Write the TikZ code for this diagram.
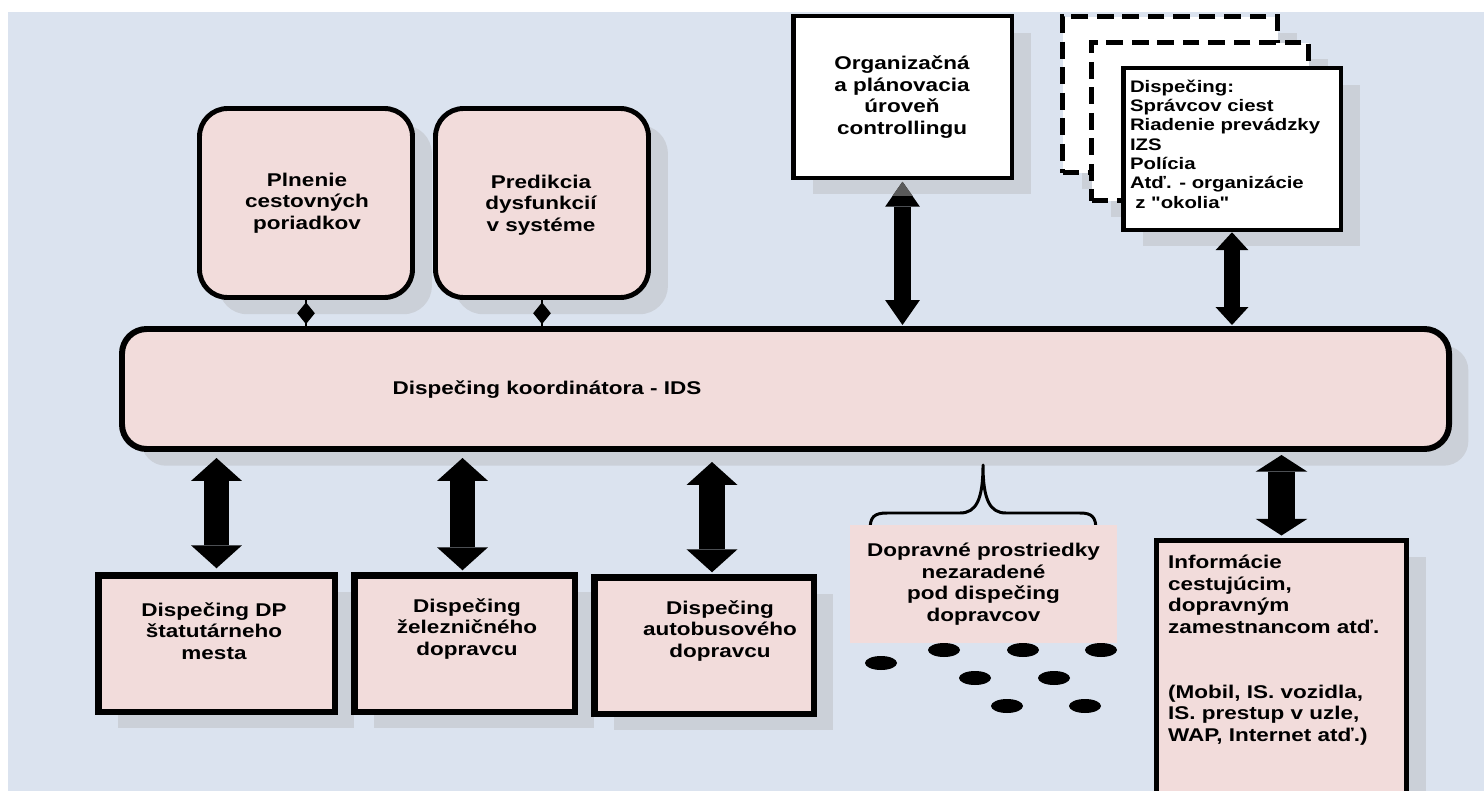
\documentclass[tikz,border=0pt]{standalone}
\usepackage{fontspec}
\newfontfamily\lab{Liberation Sans}[FakeStretch=1.22]
\usetikzlibrary{shapes.geometric,arrows.meta,shadows,calc}
\definecolor{bgblue}{HTML}{DBE3EF}
\definecolor{boxpink}{HTML}{F2DCDB}
\definecolor{shade}{HTML}{CBD0D8}
\definecolor{tipgray}{HTML}{5A5A5A}
\begin{document}
\begin{tikzpicture}[x=0.02cm,y=-0.02cm,
  wh/.style 2 args={minimum width=#1*0.02cm, minimum height=#2*0.02cm},
  txt/.style={font=\lab\bfseries\fontsize{10.5}{12.3}\selectfont, inner sep=0pt, outer sep=0pt, align=center, text=black},
  smalltxt/.style={font=\lab\bfseries\fontsize{9.5}{11}\selectfont, inner sep=0pt, outer sep=0pt, align=left, anchor=west, text=black},
  shad/.style={drop shadow={shadow xshift=11pt, shadow yshift=-9.5pt, fill=shade, opacity=1}},
  rbox/.style={draw, line width=2.8pt, fill=boxpink, rounded corners=16pt, inner sep=0pt, outer sep=0pt, shad},
  mainbox/.style={draw, line width=3.4pt, fill=boxpink, rounded corners=14pt, inner sep=0pt, outer sep=0pt, shad},
  wbox/.style={draw, line width=2.55pt, fill=white, inner sep=0pt, outer sep=0pt, shad},
  dbox/.style={draw, line width=2.8pt, dash pattern=on 9.5pt off 5pt, fill=white, inner sep=0pt, outer sep=0pt, shad},
  bbox/.style={draw, line width=3.7pt, fill=boxpink, inner sep=0pt, outer sep=0pt, shad},
  ibox/.style={draw, line width=2.8pt, fill=boxpink, inner sep=0pt, outer sep=0pt, shad},
  dot/.style={ellipse, fill=black, inner sep=0pt, wh={32}{14}},
  dmd/.style={diamond, fill=black, inner sep=0pt, wh={18}{22}},
  fatB/.style={line width=14.7pt, <->, >={Triangle[length=13pt,width=28.9pt,line width=0pt]}},
  fatI/.style={line width=15.9pt, <->, >={Triangle[length=9.5pt,width=29.5pt,line width=0pt]}},
  fatO/.style={line width=9.6pt, <->, >={Triangle[length=14.2pt,width=19.8pt,line width=0pt]}},
  fatD/.style={line width=9.1pt, <->, >={Triangle[length=10.2pt,width=18.7pt,line width=0pt]}},
  brace/.style={draw, line width=1.7pt, line join=round}
]
\useasboundingbox (0,0) rectangle (1484,791);
\clip (0,0) rectangle (1484,791);
\fill[bgblue] (8,12) rectangle (1484,791);

% upper rounded boxes
\node[rbox, wh={213}{189}] (pln) at (306,203) {};
\node[rbox, wh={213}{189}] (pred) at (542,203) {};
\node[txt] (tpln) at (307,203) {Plnenie\\cestovných\\poriadkov};
\node[txt] (tpred) at (541,205) {Predikcia\\dysfunkcií\\v systéme};

% main box
\node[mainbox, wh={1327}{120}] (main) at (785.5,389) {};
\node[txt] (tmain) at (547,390) {Dispečing koordinátora - IDS};

% organizational box
\node[wbox, wh={218.5}{161.5}] (org) at (902.5,97) {};
\node[txt] (torg) at (902,97) {Organizačná\\a plánovacia\\úroveň\\controllingu};

% stacked dispatching boxes
\node[dbox, wh={215}{156}] (d1) at (1170,94.5) {};
\node[dbox, wh={217}{158}] (d2) at (1200,121.5) {};
\node[wbox, wh={217.5}{161.5}] (disp) at (1232,149) {};
\node[smalltxt] (tdisp) at (1130,144) {Dispečing:\\Správcov ciest\\Riadenie prevádzky\\IZS\\Polícia\\Atď. - organizácie\\\hspace{3pt}z "okolia"};

% bottom boxes
\node[bbox, wh={236.5}{136.5}] (b1) at (216.5,643.5) {};
\node[bbox, wh={220.5}{136.5}] (b2) at (464.5,643.5) {};
\node[bbox, wh={219.5}{136.5}] (b3) at (704,645.5) {};
\node[txt] (tb1) at (214,631) {Dispečing DP\\štatutárneho\\mesta};
\node[txt] (tb2) at (467,629) {Dispečing\\železničného\\dopravcu};
\node[txt] (tb3) at (720,631) {Dispečing\\autobusového\\dopravcu};

% info box
\node[ibox, wh={250}{270}] (info) at (1281.5,675.5) {};
\node[txt, align=left, anchor=west] (tinfo) at (1168,650) {Informácie\\cestujúcim,\\dopravným\\zamestnancom atď.\\[24.6pt](Mobil, IS. vozidla,\\IS. prestup v uzle,\\WAP, Internet atď.)};

% brace and vehicles
\draw[brace] (870,530) .. controls (870,517) and (874,513) .. (887,513) -- (960,513)
  .. controls (976,513) and (983,500) .. (983,465)
  .. controls (983,500) and (990,513) .. (1006,513) -- (1080,513)
  .. controls (1092,513) and (1096,517) .. (1096,530);
\node[fill=boxpink, wh={267}{118}, txt] (dopr) at (983.5,584) {Dopravné prostriedky\\nezaradené\\pod dispečing\\dopravcov};
\node[dot] (e1) at (881,663) {};
\node[dot] (e2) at (944,650) {};
\node[dot] (e3) at (1023,650) {};
\node[dot] (e4) at (1101,650) {};
\node[dot] (e5) at (975,678) {};
\node[dot] (e6) at (1054,678) {};
\node[dot] (e7) at (1007,706) {};
\node[dot] (e8) at (1085,706) {};

% diamond connectors
\draw[line width=1.2pt] (pln.south) -- (pln.south |- main.north);
\draw[line width=1.2pt] (pred.south) -- (pred.south |- main.north);
\node[dmd] (dm1) at ($(pln.south)!0.5!(pln.south |- main.north)$) {};
\node[dmd] (dm2) at ($(pred.south)!0.5!(pred.south |- main.north)$) {};

% fat arrows
\draw[fatO] ($(org.south)+(0,4)$) -- ($(org.south |- main.north)+(0,-4)$);
\fill[tipgray] ($(org.south)+(0,4)$) -- ++(-10,14) -- ++(20,0) -- cycle;
\draw[fatD] ($(disp.south)+(0,2.5)$) -- ($(disp.south |- main.north)+(0,-4)$);
\draw[fatB] ($(main.south -| b1.north)+(0,9)$) -- ($(b1.north)+(0,-7)$);
\draw[fatB] ($(main.south -| b2.north)+(-2,9)$) -- ($(b2.north)+(-2,-5)$);
\draw[fatB] ($(main.south -| b3.north)+(8,13)$) -- ($(b3.north)+(8,-5)$);
\draw[fatI] ($(main.south -| info.north)+(0,6)$) -- ($(info.north)+(0,-5)$);
\end{tikzpicture}
\end{document}
